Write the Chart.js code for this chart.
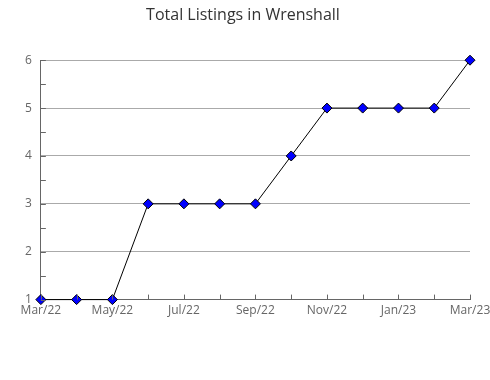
<!DOCTYPE html>
<html>
<head>
<meta charset="utf-8">
<script src="https://cdn.jsdelivr.net/npm/chart.js@4/dist/chart.umd.min.js"></script>
<style>
  html, body { margin: 0; padding: 0; background: #fff; }
  #wrap { width: 490px; height: 380px; }
</style>
</head>
<body>
<div id="wrap"><canvas id="listingsChart" width="490" height="380"></canvas></div>
<script>
const months = ["Mar/22", "Apr/22", "May/22", "Jun/22", "Jul/22", "Aug/22", "Sep/22",
  "Oct/22", "Nov/22", "Dec/22", "Jan/23", "Feb/23", "Mar/23"];
const listings = [1, 1, 1, 3, 3, 3, 3, 4, 5, 5, 5, 5, 6];
const yMin = 1;
const yMax = 6;

// tick marks pointing into the plot (half steps on y, every month on x)
const innerTicks = {
  id: "innerTicks",
  afterDatasetsDraw(chart) {
    const { ctx, scales: { x, y } } = chart;
    ctx.save();
    ctx.strokeStyle = "#666";
    ctx.lineWidth = 1;
    ctx.beginPath();
    for (let v = yMin; v <= yMax; v += 0.5) {
      const py = Math.round(y.getPixelForValue(v)) + 0.5;
      ctx.moveTo(x.left, py);
      ctx.lineTo(x.left + 5, py);
    }
    months.forEach((m, i) => {
      const px = Math.round(x.getPixelForValue(i)) + 0.5;
      ctx.moveTo(px, y.bottom);
      ctx.lineTo(px, y.bottom - 5);
    });
    ctx.stroke();
    ctx.restore();
  }
};

const ctx = document.getElementById("listingsChart").getContext("2d");

new Chart(ctx, {
  type: "line",
  data: {
    labels: months,
    datasets: [{
      data: listings,
      borderColor: "#000",
      borderWidth: 1,
      tension: 0,
      pointStyle: "rectRot",
      pointRadius: 5,
      pointHoverRadius: 5,
      pointBackgroundColor: "#0000ff",
      pointBorderColor: "#000",
      pointBorderWidth: 1,
      clip: false
    }]
  },
  options: {
    responsive: false,
    animation: false,
    layout: { padding: { left: 16, right: 20, top: 0, bottom: 58 } },
    plugins: {
      legend: { display: false },
      tooltip: { enabled: false },
      title: {
        display: true,
        text: "Total Listings in Wrenshall",
        color: "#333",
        font: { family: "Open Sans", size: 16, weight: "normal" },
        padding: { top: 6, bottom: 35 }
      }
    },
    scales: {
      x: {
        offset: false,
        grid: { display: false, drawTicks: false },
        border: { display: true, color: "#666" },
        afterFit(scale) {
          scale.paddingRight = 0;
        },
        ticks: {
          autoSkip: false,
          maxRotation: 0,
          padding: 4,
          color: "#666",
          font: { family: "Open Sans", size: 12 },
          callback: (v, i) => (i % 2 === 0 ? months[i] : "")
        }
      },
      y: {
        min: yMin,
        max: yMax,
        grid: { color: "#aaa", drawTicks: false },
        border: { display: true, color: "#666" },
        ticks: {
          stepSize: 1,
          padding: 9,
          color: "#666",
          font: { family: "Open Sans", size: 12 }
        }
      }
    }
  },
  plugins: [innerTicks]
});
</script>
</body>
</html>
